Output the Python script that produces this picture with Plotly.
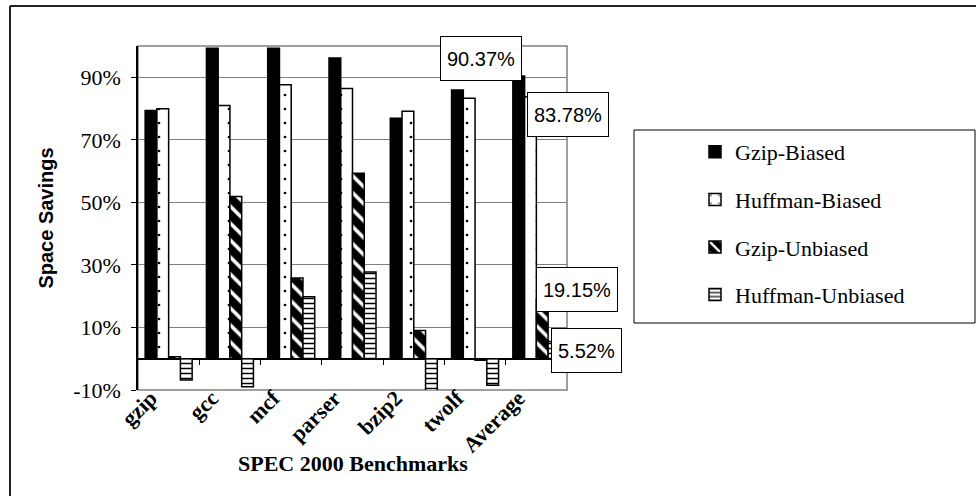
import plotly.graph_objects as go

# Benchmarks and space savings (%) per encoding scheme
benchmarks = ["gzip", "gcc", "mcf", "parser", "bzip2", "twolf", "Average"]
gzip_biased = [79.4, 99.3, 99.3, 96.2, 76.9, 85.9, 90.37]
huffman_biased = [79.9, 81.0, 87.6, 86.4, 79.1, 83.3, 83.78]
gzip_unbiased = [0.6, 51.9, 25.8, 59.3, 9.0, -0.5, 19.15]
huffman_unbiased = [-6.8, -9.0, 19.8, 27.7, -19.4, -8.5, 5.52]
y_ticks = [-10, 10, 30, 50, 70, 90]
y_range = [-10, 100]

W, H = 976, 496
ML, MR, MT, MB = 138, 409, 46, 106
PW, PH = W - ML - MR, H - MT - MB

def px_x(p):
    return (p - ML) / PW

def px_y(p):
    return (H - MB - p) / PH

SERIF = "Liberation Serif, Times New Roman, serif"
SANS = "Liberation Sans, Arial, sans-serif"
BARGAP = 0.233
x_range = [-0.5, len(benchmarks) - 0.5]

series = [
    ("Gzip-Biased", gzip_biased, dict(color="black")),
    ("Huffman-Biased", huffman_biased,
     dict(color="white", pattern=dict(shape=".", size=14, solidity=0.03,
                                      fgcolor="black", bgcolor="white", fillmode="replace"))),
    ("Gzip-Unbiased", gzip_unbiased,
     dict(color="black", pattern=dict(shape="\\", size=12, solidity=0.3,
                                      fgcolor="white", bgcolor="black", fillmode="replace"))),
    ("Huffman-Unbiased", huffman_unbiased,
     dict(color="white", pattern=dict(shape="-", size=5, solidity=0.3,
                                      fgcolor="black", bgcolor="white", fillmode="replace"))),
]

fig = go.Figure()
for name, vals, marker in series:
    marker = dict(marker)
    marker["line"] = dict(color="black", width=1.5)
    fig.add_trace(go.Bar(name=name, x=benchmarks, y=vals, marker=marker,
                         legendgroup=name))

# empty trace so the category-boundary tick axis at 0% gets drawn
fig.add_trace(go.Scatter(x=[], y=[], xaxis="x2", yaxis="y",
                         showlegend=False, hoverinfo="skip"))

# value callouts for the Average group
bar_w = (1 - BARGAP) / 4
avg_idx = benchmarks.index("Average")
callouts = [
    (gzip_biased[-1], 0, -38, 18),
    (huffman_biased[-1], 1, 38, -18),
    (gzip_unbiased[-1], 2, 35, 9),
    (huffman_unbiased[-1], 3, 33, -9),
]
for val, i, dx, dy in callouts:
    fig.add_annotation(
        x=avg_idx + (i - 1.5) * bar_w, y=val, xref="x", yref="y",
        text=f"{val:.2f}%", showarrow=False, xshift=dx, yshift=dy,
        font=dict(family=SANS, size=20, color="black"),
        bgcolor="white", bordercolor="black", borderwidth=1, borderpad=6,
        height=31,
    )

# x-axis title
fig.add_annotation(
    x=0.5, y=px_y(463), xref="paper", yref="paper",
    xanchor="center", yanchor="middle", showarrow=False,
    text="SPEC 2000 Benchmarks",
    font=dict(family=SERIF, size=22, color="black", weight="bold"),
)

shapes = [
    # plot frame
    dict(type="rect", xref="paper", yref="paper", x0=0, x1=1, y0=0, y1=1,
         line=dict(color="#808080", width=1.5), layer="below"),
    # legend frame
    dict(type="rect", xref="paper", yref="paper", x0=px_x(634), x1=px_x(975),
         y0=px_y(323), y1=px_y(130), line=dict(color="black", width=1)),
    # outer chart border (top and left edges visible)
    dict(type="line", xref="paper", yref="paper", x0=px_x(10), x1=px_x(980),
         y0=px_y(6), y1=px_y(6), line=dict(color="#222", width=2)),
    dict(type="line", xref="paper", yref="paper", x0=px_x(10), x1=px_x(10),
         y0=px_y(6), y1=px_y(500), line=dict(color="#222", width=2)),
]

zero_pos = (0 - y_range[0]) / (y_range[1] - y_range[0])

fig.update_layout(
    width=W, height=H,
    margin=dict(l=ML, r=MR, t=MT, b=MB, autoexpand=False),
    paper_bgcolor="white", plot_bgcolor="white",
    barmode="group", bargap=BARGAP, bargroupgap=0,
    shapes=shapes,
    xaxis=dict(
        type="category", categoryorder="array", categoryarray=benchmarks,
        range=x_range,
        showline=False, showgrid=False, ticks="", tickangle=-45,
        tickfont=dict(family=SERIF, size=22, color="black", weight="bold"),
        ticklabelshift=-18, ticklabelstandoff=-10,
        automargin=False,
    ),
    xaxis2=dict(
        overlaying="x", anchor="free", position=zero_pos,
        range=x_range,
        tickmode="array", tickvals=[i + 0.5 for i in range(len(benchmarks) - 1)],
        ticks="outside", ticklen=5, tickcolor="black", tickwidth=1,
        showticklabels=False, showgrid=False, showline=False, zeroline=False,
    ),
    yaxis=dict(
        range=y_range, tickmode="array", tickvals=y_ticks,
        ticktext=[f"{v}%" for v in y_ticks],
        tickfont=dict(family=SERIF, size=22, color="black"),
        ticks="outside", ticklen=5, tickcolor="black",
        showline=True, linecolor="black", linewidth=1.5,
        showgrid=True, gridcolor="#808080", gridwidth=1,
        zeroline=True, zerolinecolor="black", zerolinewidth=1.5,
        ticklabelstandoff=6,
        title=dict(text="Space Savings", standoff=14,
                   font=dict(family=SANS, size=20, color="black", weight="bold")),
        automargin=False,
    ),
    legend=dict(
        x=px_x(695), y=px_y(131), xanchor="left", yanchor="top",
        font=dict(family=SERIF, size=22, color="black"),
        bgcolor="rgba(0,0,0,0)", borderwidth=0, tracegroupgap=16,
        traceorder="grouped",
    ),
    showlegend=True,
)

fig.write_html("out.html")
